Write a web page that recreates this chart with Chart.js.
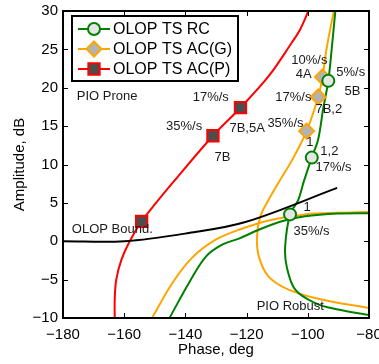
<!DOCTYPE html>
<html><head><meta charset="utf-8">
<style>html,body{margin:0;padding:0;background:#fff;}</style>
<script src="https://cdn.jsdelivr.net/npm/chart.js@4"></script>
</head><body>
<canvas id="c" width="379" height="364"></canvas>
<script>
const xTicks = [-180, -160, -140, -120, -100, -80];
const yTicks = [-10, -5, 0, 5, 10, 15, 20, 25, 30];

const boundPhase = [-180, -159.9, -138.8, -120.4, -90.4];
const boundAmp   = [0, 0, 1.08, 2.5, 6.95];

const rcUpPhase = [-91.0, -92.2, -93.3, -95.0, -96.6, -98.7, -101.3, -103.1, -105.8, -107.4, -106.9, -104.1, -97.6, -90.1, -80.0];
const rcUpAmp   = [30, 25, 20.9, 17.2, 13.3, 10.9, 7.8, 5.4, 3.5, -0.7, -3.3, -6.3, -8.05, -8.9, -9.6];
const rcLowPhase = [-145.2, -138.8, -133.3, -128.0, -122.5, -116.0, -108.5, -100.9, -90.1, -80.0];
const rcLowAmp   = [-10, -5.4, -2.0, -0.45, 0.35, 1.5, 2.6, 3.25, 3.6, 3.65];

const acUpPhase = [-91.5, -93.9, -95.2, -96.6, -100.4, -105.1, -109.0, -112.8, -115.5, -116.6, -116.0, -112.8, -106.3, -95.5, -80.0];
const acUpAmp   = [30, 25, 21.4, 18.8, 14.35, 10.6, 8.0, 5.4, 3.25, 0.64, -2.0, -4.6, -6.3, -7.6, -8.7];
const acLowPhase = [-150.9, -144.2, -137.7, -130.1, -122.5, -111.7, -100.9, -90.0, -80.0];
const acLowAmp   = [-10, -5.4, -2.1, 0.2, 1.5, 2.8, 3.5, 3.7, 3.8];

const apPhase = [-163.1, -163.1, -162.6, -160.9, -158.2, -154.3, -149.6, -144.2, -131.0, -122.0, -112.8, -105.2, -102.5, -99.8];
const apAmp   = [-10, -7.6, -5.0, -2.4, 0, 2.6, 5.0, 7.6, 13.75, 17.4, 21.5, 25.9, 27.6, 30];

const rcMarkPhase = [-93.3, -98.7, -105.8];
const rcMarkAmp   = [20.9, 10.9, 3.5];
const acMarkPhase = [-95.2, -96.6, -100.4];
const acMarkAmp   = [21.4, 18.8, 14.35];
const apMarkPhase = [-154.3, -131.0, -122.0];
const apMarkAmp   = [2.6, 13.75, 17.4];

const seriesNames = ['OLOP TS RC', 'OLOP TS AC(G)', 'OLOP TS AC(P)'];

const notes = [
  {t: 'PIO Prone', x: -175.5, y: 18.9, a: 'left'},
  {t: '35%/s', x: -134.5, y: 15.0, a: 'right'},
  {t: '17%/s', x: -125.8, y: 18.7, a: 'right'},
  {t: '7B,5A', x: -125.6, y: 14.7, a: 'left'},
  {t: '7B', x: -127.9, y: 10.9, a: 'center'},
  {t: '10%/s', x: -99.5, y: 23.6, a: 'center'},
  {t: '4A', x: -101.3, y: 21.75, a: 'center'},
  {t: '5%/s', x: -90.7, y: 22.0, a: 'left'},
  {t: '5B', x: -85.4, y: 19.5, a: 'center'},
  {t: '17%/s', x: -98.8, y: 18.75, a: 'right'},
  {t: '7B,2', x: -97.5, y: 17.2, a: 'left'},
  {t: '35%/s', x: -101.4, y: 15.35, a: 'right'},
  {t: '1', x: -99.3, y: 12.9, a: 'center'},
  {t: '1,2', x: -95.9, y: 11.7, a: 'left'},
  {t: '17%/s', x: -97.5, y: 9.6, a: 'left'},
  {t: '1', x: -101.4, y: 4.4, a: 'left'},
  {t: '35%/s', x: -104.7, y: 1.25, a: 'left'},
  {t: 'OLOP Bound.', x: -177.1, y: 1.5, a: 'left'},
  {t: 'PIO Robust', x: -116.7, y: -8.5, a: 'left'}
];

const GREEN = '#008000', ORANGE = '#ffa500', RED = '#ff0000';
const FONT = '"Liberation Sans", Arial, Helvetica, sans-serif';

function pts(xs, ys) { return xs.map((x, i) => ({x: x, y: ys[i]})); }
function lineDs(xs, ys, color) {
  return {data: pts(xs, ys), borderColor: color, borderWidth: 2, pointRadius: 0, showLine: true,
          tension: 0.35, fill: false, order: 2};
}
function markDs(xs, ys, style, fillc, edge, r) {
  return {data: pts(xs, ys), showLine: false, pointStyle: style, pointRadius: r, pointHoverRadius: r,
          pointBackgroundColor: fillc, pointBorderColor: edge, pointBorderWidth: 2, order: 0};
}

const markStyles = [
  {style: 'circle', fill: '#e6e6e6', edge: GREEN, r: 6, color: GREEN},
  {style: 'rectRot', fill: '#b3b3b3', edge: ORANGE, r: 7.5, color: ORANGE},
  {style: 'rect', fill: '#4d4d4d', edge: RED, r: 8, color: RED}
];

function drawMarker(ctx, m, x, y) {
  ctx.save();
  ctx.fillStyle = m.fill; ctx.strokeStyle = m.edge; ctx.lineWidth = 2;
  ctx.beginPath();
  if (m.style === 'circle') ctx.arc(x, y, m.r, 0, Math.PI * 2);
  else if (m.style === 'rectRot') { ctx.moveTo(x - m.r, y); ctx.lineTo(x, y - m.r); ctx.lineTo(x + m.r, y); ctx.lineTo(x, y + m.r); ctx.closePath(); }
  else { const h = m.r * Math.SQRT1_2; ctx.rect(x - h, y - h, 2 * h, 2 * h); }
  ctx.fill(); ctx.stroke();
  ctx.restore();
}

const framePlugin = {
  id: 'frame',
  afterDatasetsDraw(chart) {
    const ctx = chart.ctx, a = chart.chartArea, xs = chart.scales.x, ys = chart.scales.y;
    ctx.save();
    ctx.strokeStyle = '#000'; ctx.lineWidth = 1;
    ctx.beginPath();
    xTicks.forEach(v => {
      const p = Math.round(xs.getPixelForValue(v)) + 0.5;
      ctx.moveTo(p, a.bottom); ctx.lineTo(p, a.bottom - 5);
      ctx.moveTo(p, a.top); ctx.lineTo(p, a.top + 5);
    });
    yTicks.forEach(v => {
      const p = Math.round(ys.getPixelForValue(v)) + 0.5;
      ctx.moveTo(a.left, p); ctx.lineTo(a.left + 5, p);
      ctx.moveTo(a.right, p); ctx.lineTo(a.right - 5, p);
    });
    ctx.stroke();
    ctx.lineWidth = 2;
    ctx.strokeRect(a.left, a.top, a.right - a.left, a.bottom - a.top);
    // notes
    ctx.fillStyle = '#1a1a1a';
    ctx.font = '13px ' + FONT;
    ctx.textBaseline = 'middle';
    notes.forEach(n => {
      ctx.textAlign = n.a;
      ctx.fillText(n.t, xs.getPixelForValue(n.x), ys.getPixelForValue(n.y));
    });
    // legend
    const bx = a.left + 9, by = a.top + 5, bw = 166, bh = 65;
    ctx.fillStyle = '#fff';
    ctx.fillRect(bx, by, bw, bh);
    ctx.lineWidth = 2; ctx.strokeStyle = '#000';
    ctx.strokeRect(bx, by, bw, bh);
    ctx.font = '16px ' + FONT;
    ctx.textAlign = 'left';
    seriesNames.forEach((name, i) => {
      const m = markStyles[i];
      const yy = by + 13 + i * 20;
      ctx.strokeStyle = m.color; ctx.lineWidth = 2;
      ctx.beginPath(); ctx.moveTo(bx + 6, yy); ctx.lineTo(bx + 38, yy); ctx.stroke();
      drawMarker(ctx, m, bx + 22, yy);
      ctx.fillStyle = '#000';
      ctx.fillText(name, bx + 41, yy + 1);
    });
    ctx.restore();
  }
};

const minus = v => String(v).replace('-', '\u2212');

new Chart(document.getElementById('c'), {
  type: 'scatter',
  data: {
    datasets: [
      markDs(rcMarkPhase, rcMarkAmp, 'circle', '#e6e6e6', GREEN, 6),
      markDs(acMarkPhase, acMarkAmp, 'rectRot', '#b3b3b3', ORANGE, 7.5),
      markDs(apMarkPhase, apMarkAmp, 'rect', '#4d4d4d', RED, 8),
      lineDs(boundPhase, boundAmp, '#000'),
      lineDs(rcUpPhase, rcUpAmp, GREEN),
      lineDs(rcLowPhase, rcLowAmp, GREEN),
      lineDs(acUpPhase, acUpAmp, ORANGE),
      lineDs(acLowPhase, acLowAmp, ORANGE),
      lineDs(apPhase, apAmp, RED)
    ]
  },
  options: {
    responsive: false, animation: false, devicePixelRatio: 1,
    layout: {padding: {top: 11, right: 8, left: 0, bottom: 0}},
    plugins: {legend: {display: false}, tooltip: {enabled: false}},
    scales: {
      x: {
        type: 'linear', min: -180, max: -80,
        afterBuildTicks: s => { s.ticks = xTicks.map(v => ({value: v})); },
        afterFit: s => { s.height = 46; s.paddingLeft = 0; s.paddingRight = 0; },
        grid: {display: false, drawTicks: false},
        border: {display: false},
        ticks: {color: '#000', font: {size: 15, family: FONT}, padding: 8, maxRotation: 0, callback: v => minus(v)},
        title: {display: true, text: 'Phase, deg', color: '#000', font: {size: 15, family: FONT}, padding: {top: 0, bottom: 5}}
      },
      y: {
        type: 'linear', min: -10, max: 30,
        afterBuildTicks: s => { s.ticks = yTicks.map(v => ({value: v})); },
        afterFit: s => { s.width = 63; s.paddingTop = 0; s.paddingBottom = 0; },
        grid: {display: false, drawTicks: false},
        border: {display: false},
        ticks: {color: '#000', font: {size: 15, family: FONT}, padding: 5, callback: v => minus(v)},
        title: {display: true, text: 'Amplitude, dB', color: '#000', font: {size: 15, family: FONT}, padding: {top: 11, bottom: 0}}
      }
    }
  },
  plugins: [framePlugin]
});
</script>
</body></html>
